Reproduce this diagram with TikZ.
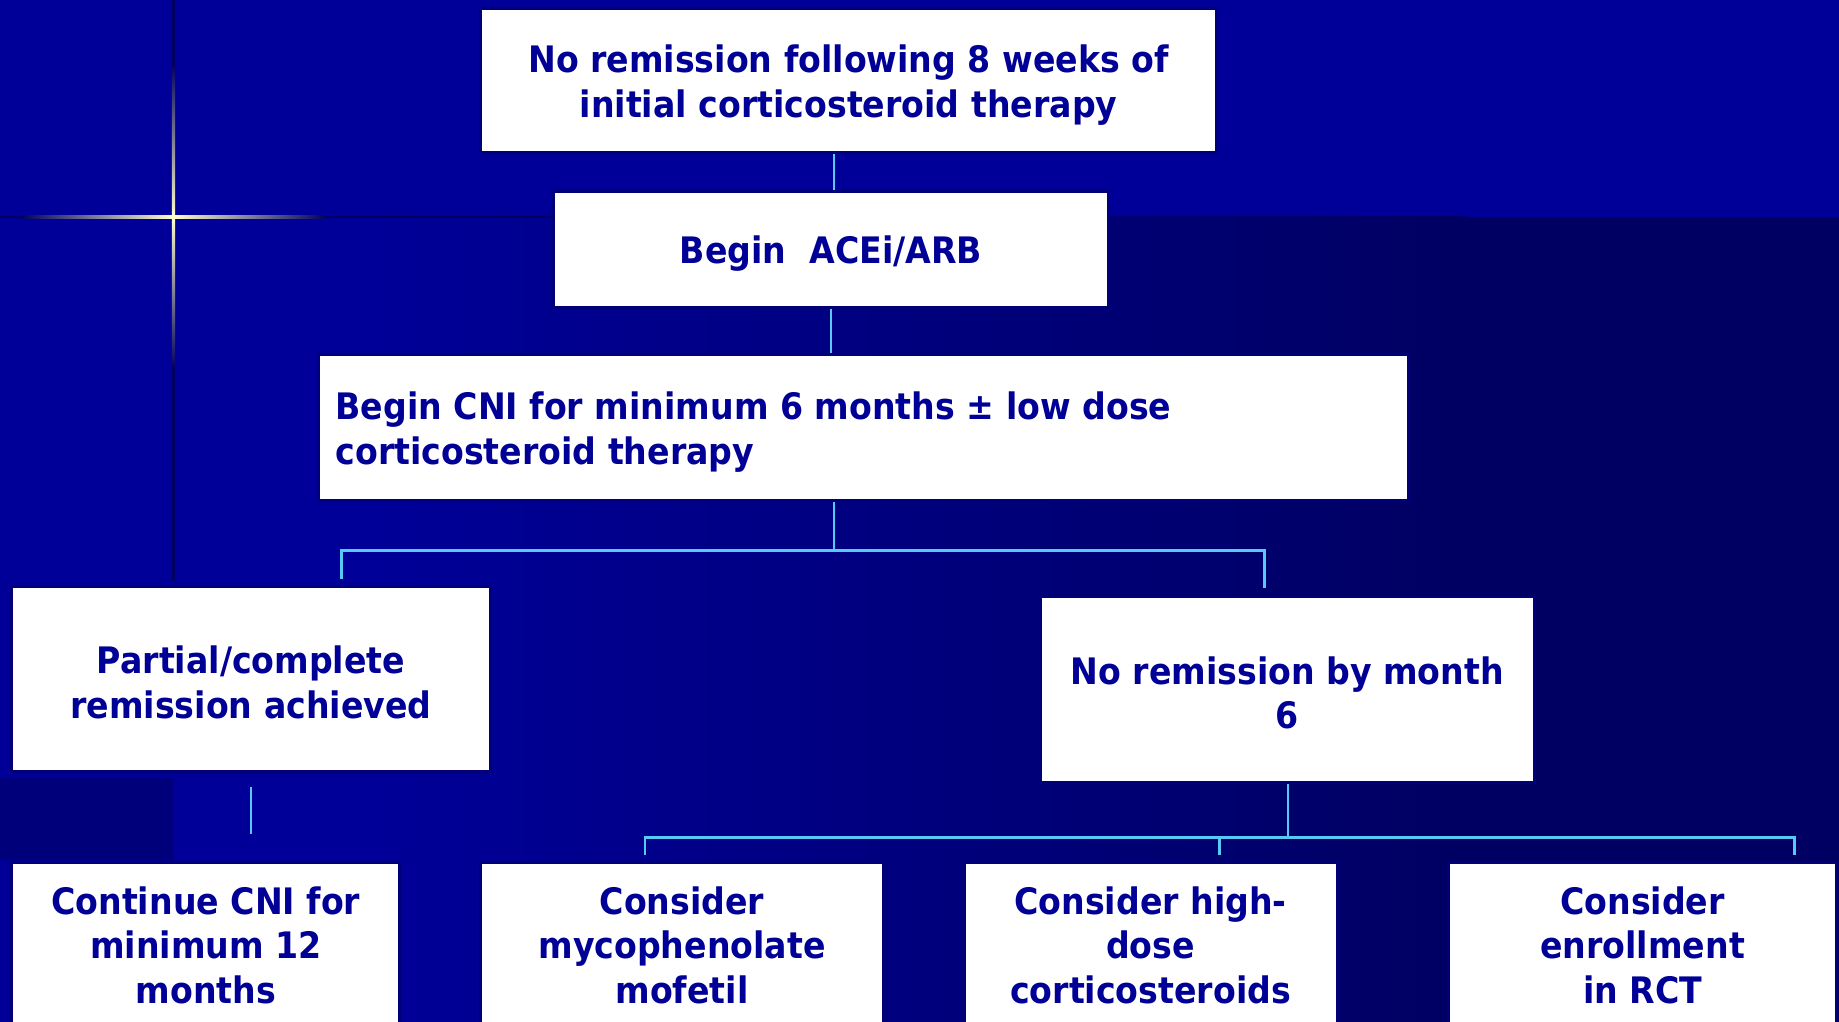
\documentclass[tikz,border=0pt]{standalone}
\usepackage{fontspec}
\setmainfont{DejaVu Sans}[FakeStretch=0.91]
\usetikzlibrary{calc}
\definecolor{bgblue}{RGB}{0,0,153}
\definecolor{darkbg}{RGB}{0,0,98}
\definecolor{textblue}{RGB}{0,0,150}
\definecolor{boxedge}{RGB}{0,0,120}
\definecolor{linecyan}{RGB}{88,200,246}
\definecolor{glowblue}{RGB}{0,102,255}
\definecolor{glowcream}{RGB}{255,255,204}
\definecolor{glowdark}{RGB}{0,0,96}
\begin{document}
\begin{tikzpicture}[x=0.02cm, y=-0.02cm,
    box/.style={draw=boxedge, line width=0.05cm, fill=white, inner sep=0pt},
    boxtext/.style={text=textblue, align=center, inner sep=0pt,
      font=\bfseries\fontsize{17.7}{21.6}\selectfont},
    conn/.style={draw=linecyan, line width=0.03cm},
    bus/.style={draw=linecyan, line width=0.045cm}]
  \useasboundingbox (0,0) rectangle (1568,871);
  \clip (0,0) rectangle (1568,871);
  % background
  \fill[bgblue] (0,0) rectangle (1568,871);
  \shade[left color=bgblue, right color=darkbg] (300,185) rectangle (1250,871);
  \fill[darkbg] (1249,185) rectangle (1568,871);
  \fill[bgblue!80!black] (0,663) rectangle (148,733);
  \draw[glowdark, line width=0.05cm] (148,0) -- (148,495);
  \draw[glowdark, line width=0.05cm] (0,185) -- (472,185);
  \shade[left color=glowdark, middle color=glowblue, right color=glowcream] (18,183.6) rectangle (148,186.4);
  \shade[left color=glowcream, middle color=glowblue, right color=glowdark] (148,183.6) rectangle (278,186.4);
  \shade[top color=glowdark, middle color=glowblue, bottom color=glowcream] (146.6,54) rectangle (149.4,185);
  \shade[top color=glowcream, middle color=glowblue, bottom color=glowdark] (146.6,185) rectangle (149.4,314);

  % boxes
  \node[box, minimum width=627*0.02cm, minimum height=123*0.02cm] (start) at (723.5,68.5) {};
  \node[box, minimum width=473*0.02cm, minimum height=99*0.02cm] (acei) at (708.5,212.5) {};
  \node[box, minimum width=929*0.02cm, minimum height=125*0.02cm] (cni) at (736.5,364.5) {};
  \node[box, minimum width=408*0.02cm, minimum height=158*0.02cm] (partial) at (214,579) {};
  \node[box, minimum width=421*0.02cm, minimum height=158*0.02cm] (nomonth) at (1097.5,588) {};
  \node[box, minimum width=331*0.02cm, minimum height=166*0.02cm] (cont) at (175.5,818) {};
  \node[box, minimum width=343*0.02cm, minimum height=166*0.02cm] (mmf) at (581.5,818) {};
  \node[box, minimum width=318*0.02cm, minimum height=166*0.02cm] (hdc) at (981,818) {};
  \node[box, minimum width=331*0.02cm, minimum height=166*0.02cm] (rct) at (1400.5,818) {};

  % texts
  \node[boxtext] (start-txt) at ($(start)+(0,4)$) {No remission following 8 weeks of\\initial corticosteroid therapy};
  \node[boxtext] (acei-txt) at ($(acei)+(0,4)$) {Begin~ ACEi/ARB};
  \node[boxtext, anchor=west, align=left] (cni-txt) at ($(cni.west)+(15,4)$) {Begin CNI for minimum 6 months ± low dose\\corticosteroid therapy};
  \node[boxtext] (partial-txt) at ($(partial)+(0,3)$) {Partial/complete\\remission achieved};
  \node[boxtext] (nomonth-txt) at ($(nomonth)+(0,3)$) {No remission by month\\6};
  \node[boxtext] (cont-txt) at ($(cont)+(0,-12)$) {Continue CNI for\\minimum 12\\months};
  \node[boxtext] (mmf-txt) at ($(mmf)+(0,-12)$) {Consider\\mycophenolate\\mofetil};
  \node[boxtext] (hdc-txt) at ($(hdc)+(0,-12)$) {Consider high-\\dose\\corticosteroids};
  \node[boxtext] (rct-txt) at ($(rct)+(0,-12)$) {Consider\\enrollment\\in RCT};

  % connectors
  \draw[conn] (acei.north) ++(2.5,0) coordinate (a1) -- (a1 |- start.south);
  \draw[conn] (acei.south) -- (acei.south |- cni.north);
  \coordinate (j1) at ($(cni.south)+(-25.5,41)$);
  \draw[conn] (cni.south -| j1) -- (j1);
  \draw[bus] ($(partial.north)+(77,-5)$) |- (j1) -| ($(nomonth.north)+(-19.5,-6)$);
  \draw[conn, shorten <=0.24cm, shorten >=0.46cm] (partial.south) -- (partial.south |- cont.north);
  \coordinate (j2) at ($(nomonth.south)+(0.5,46)$);
  \draw[conn] (nomonth.south -| j2) -- (j2);
  \draw[bus] ($(mmf.north)+(-31.5,-5)$) |- (j2) -| ($(rct.north)+(129.5,-5)$);
  \draw[bus] ($(hdc.north)+(59,-5)$) coordinate (d3) -- (d3 |- j2);
\end{tikzpicture}
\end{document}
